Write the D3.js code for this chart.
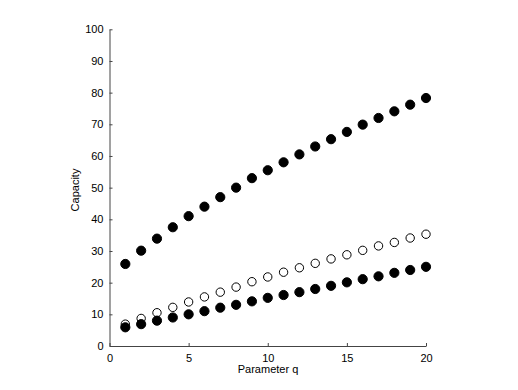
<!DOCTYPE html>
<html>
<head>
    <style type="text/css">
        body { margin: 0; background: #fff; }
        text { font-family: "Liberation Sans", Arial, sans-serif; font-size: 11px; fill: #000; }
        .axis path, .axis line { stroke: #444; }
    </style>
    <script src="https://d3js.org/d3.v7.min.js"></script>
</head>
<body>
    <svg id="mySvg" width="518" height="390"></svg>
</body>
<script type="text/javascript">
// values
const qValues = [1, 2, 3, 4, 5, 6, 7, 8, 9, 10, 11, 12, 13, 14, 15, 16, 17, 18, 19, 20];
const upperFilled = [25.9, 30.1, 33.9, 37.5, 41, 44, 47, 50, 53, 55.5, 58, 60.5, 63, 65.3, 67.6, 69.9, 72, 74.1, 76.2, 78.3];
const middleOpen = [6.9, 8.7, 10.5, 12.2, 13.9, 15.5, 17, 18.6, 20.3, 21.8, 23.3, 24.7, 26.1, 27.5, 28.8, 30.2, 31.6, 32.7, 34.1, 35.3];
const lowerFilled = [5.9, 6.9, 8, 9, 10, 11, 12.1, 13, 14.1, 15.2, 16.1, 17, 18, 19, 20.1, 21.1, 22, 23.1, 24, 25];
const xTicks = [0, 5, 10, 15, 20];
const yTicks = [0, 10, 20, 30, 40, 50, 60, 70, 80, 90, 100];

const svg = d3.select('#mySvg');

const x = d3.scaleLinear().domain([0, 20]).range([109.5, 426]);
const y = d3.scaleLinear().domain([0, 100]).range([346, 29.3]);

// axes (MATLAB style, ticks pointing inward)
svg.append('g')
    .attr('class', 'axis')
    .attr('transform', 'translate(0,346)')
    .call(d3.axisBottom(x).tickValues(xTicks).tickSizeInner(-3).tickSizeOuter(0).tickPadding(8))
    .call(g => g.selectAll('text').attr('font-size', null));

svg.append('g')
    .attr('class', 'axis')
    .attr('transform', 'translate(109.5,0)')
    .call(d3.axisLeft(y).tickValues(yTicks).tickSizeInner(-3).tickSizeOuter(0).tickPadding(6))
    .call(g => g.selectAll('text').attr('font-size', null));

svg.selectAll('.axis text').attr('font-family', null);

// series
function drawSeries(values, filled) {
    svg.append('g')
        .selectAll('circle')
        .data(values)
        .enter()
        .append('circle')
        .attr('cx', (d, i) => x(qValues[i]))
        .attr('cy', d => y(d))
        .attr('r', filled ? 4.6 : 4.2)
        .attr('fill', filled ? '#000' : '#fff')
        .attr('stroke', '#000')
        .attr('stroke-width', 1);
}
drawSeries(middleOpen, false);
drawSeries(lowerFilled, true);
drawSeries(upperFilled, true);

// axis labels
svg.append('text')
    .attr('x', 268)
    .attr('y', 373)
    .attr('text-anchor', 'middle')
    .text('Parameter q');

svg.append('text')
    .attr('transform', 'translate(79,190) rotate(-90)')
    .attr('text-anchor', 'middle')
    .text('Capacity');
</script>
</html>
